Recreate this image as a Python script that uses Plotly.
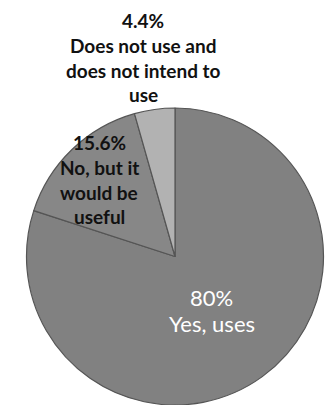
import plotly.graph_objects as go

categories = ["Yes, uses", "No, but it would be useful", "Does not use and does not intend to use"]
values = [80, 15.6, 4.4]
pct_labels = ["80%", "15.6%", "4.4%"]
label_lines = [["Yes, uses"], ["No, but it", "would be", "useful"], ["Does not use and", "does not intend to", "use"]]
colors = ["#818181", "#878787", "#b2b2b2"]

W, H = 332, 405

fig = go.Figure()
fig.add_trace(go.Pie(
    labels=categories,
    values=values,
    sort=False,
    direction="clockwise",
    rotation=0,
    textinfo="none",
    hoverinfo="label+percent",
    marker=dict(colors=colors, line=dict(color="#555555", width=1.2)),
    domain=dict(x=[26 / W, 324 / W], y=[0, 1 - 108 / H]),
    showlegend=False,
))

# label anchor positions (pixel centers of first line) and styles
label_pos = [(212, 297), (99, 142), (143, 20)]
label_colors = ["white", "#111111", "#111111"]
label_bold = [False, True, True]
line_gap = 25

annotations = []
for i in range(len(categories)):
    lines = [pct_labels[i]] + label_lines[i]
    cx, cy = label_pos[i]
    for j, ln in enumerate(lines):
        txt = f"<b>{ln}</b>" if label_bold[i] else ln
        y = cy + j * (line_gap if i != 0 else 26)
        annotations.append(dict(
            x=cx / W, y=1 - y / H, xref="paper", yref="paper",
            text=txt, showarrow=False, xanchor="center", yanchor="middle",
            font=dict(family="Lato, Open Sans, sans-serif", size=19 if i != 0 else 22,
                      color=label_colors[i]),
        ))

fig.update_layout(
    width=W, height=H,
    margin=dict(l=0, r=0, t=0, b=0),
    paper_bgcolor="white",
    plot_bgcolor="white",
    annotations=annotations,
)

fig.write_html("out.html")
